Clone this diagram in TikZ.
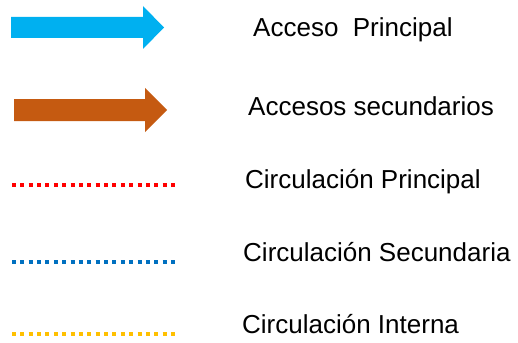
\documentclass[tikz,border=0pt]{standalone}
\usepackage{fontspec}
\setmainfont{Liberation Sans}
\usepackage{tikz}
\usetikzlibrary{positioning}
\definecolor{AccBlue}{RGB}{0, 176, 240}
\definecolor{AccOrange}{RGB}{197, 90, 17}
\definecolor{CircRed}{RGB}{255, 0, 0}
\definecolor{CircBlue}{RGB}{0, 112, 192}
\definecolor{CircYellow}{RGB}{255, 192, 0}

\begin{document}
\begin{tikzpicture}[x=1pt, y=-1pt]
  \tikzstyle{legtext} = [anchor=base west, inner sep=0pt, font=\fontsize{26}{30}\selectfont]
  \tikzstyle{circline} = [line width=4pt, dash pattern=on 4pt off 4.37pt]

  \useasboundingbox (0,0) rectangle (518,342);

  % access arrows
  \fill[AccBlue] (11,17) -- (143,17) -- (143,6) -- (164,27.5) -- (143,49) -- (143,38) -- (11,38) -- cycle;
  \fill[AccOrange] (14,99) -- (145,99) -- (145,88) -- (167,110) -- (145,132) -- (145,121) -- (14,121) -- cycle;

  % circulation lines
  \coordinate (rA) at (12,185);  \coordinate (rB) at (175,185);
  \coordinate (bA) at (12,262);  \coordinate (bB) at (175,262);
  \coordinate (yA) at (12,334);  \coordinate (yB) at (175,334);
  \draw[circline, CircRed] (rA) -- (rB);
  \draw[circline, CircBlue] (bA) -- (bB);
  \draw[circline, CircYellow] (yA) -- (yB);

  % labels
  \node [legtext] (t1) at (253,37) {Acceso\ \ Principal};
  \node [legtext] (t2) at (248,115) {Accesos secundarios};
  \node [legtext] (t3) at (245,188) {Circulación Principal};
  \node [legtext] (t4) at (243,261) {Circulación Secundaria};
  \node [legtext] (t5) at (242,333) {Circulación Interna};
\end{tikzpicture}
\end{document}
